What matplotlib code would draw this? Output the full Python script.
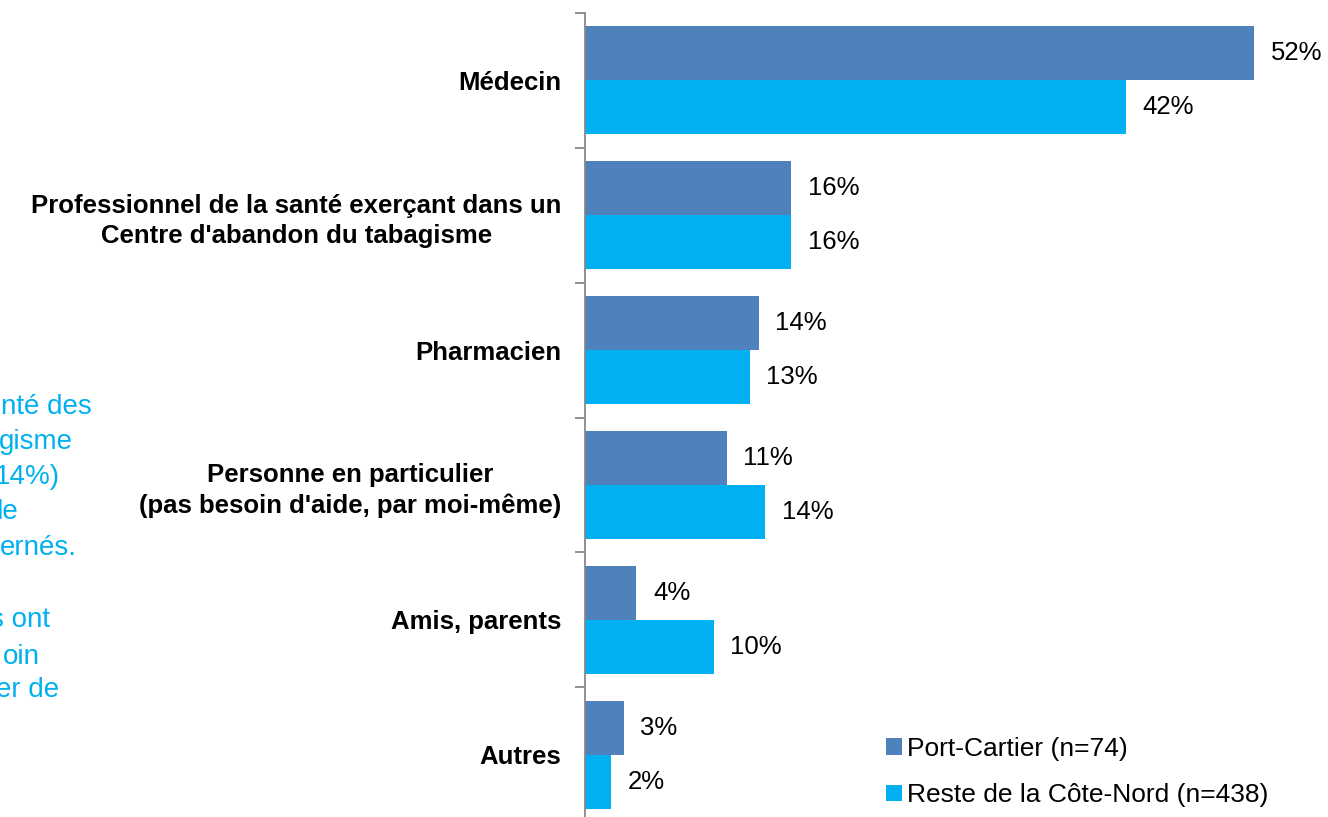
import matplotlib.pyplot as plt
import numpy as np

plt.rcParams['font.family'] = ['Liberation Sans', 'DejaVu Sans']

categories = ["Médecin",
              "Professionnel de la santé exerçant dans un\nCentre d'abandon du tabagisme",
              "Pharmacien",
              "Personne en particulier\n(pas besoin d'aide, par moi-même)",
              "Amis, parents",
              "Autres"]
port_cartier = [52, 16, 13.5, 11, 4, 3]
reste_cn = [42, 16, 12.8, 14, 10, 2]
port_labels = ["52%", "16%", "14%", "11%", "4%", "3%"]
reste_labels = ["42%", "16%", "13%", "14%", "10%", "2%"]
series_names = ["Port-Cartier (n=74)", "Reste de la Côte-Nord (n=438)"]

# bout de texte coupé à gauche de la diapo
side_text = ["nté des", "gisme", "14%)", "de", "ernés.", "s ont", "oin", "er de"]
side_x = [92, 73, 60, 19, 77, 50, 40, 59]
side_y = [407, 442, 477, 512, 548, 620, 657, 690]

W, H = 1328, 817
fig = plt.figure(figsize=(W / 100, H / 100), dpi=100)
ax = fig.add_axes([585 / W, (H - 822) / H, (W - 585) / W, 809 / H])

y = np.arange(len(categories))
b1 = ax.barh(y - 0.2, port_cartier, height=0.4, color='#4F81BD', label=series_names[0])
b2 = ax.barh(y + 0.2, reste_cn, height=0.4, color='#00B0F0', label=series_names[1])
ax.bar_label(b1, labels=port_labels, padding=12, fontsize=18.5)
ax.bar_label(b2, labels=reste_labels, padding=12, fontsize=18.5)

ax.set_xlim(0, (W - 585) / 12.87)
ax.set_ylim(len(categories) - 0.5, -0.5)

ax.set_yticks(np.arange(-0.5, len(categories) + 0.5, 1))
ax.set_yticklabels([])
ax.set_yticks(y, minor=True)
ax.set_yticklabels(categories, minor=True, fontsize=18.5, fontweight='bold')
for lbl in ax.get_yticklabels(minor=True):
    lbl.set_multialignment('center')
    lbl.set_linespacing(1.35)
ax.tick_params(axis='y', which='major', length=7, width=1.3, color='#888888', direction='out')
ax.tick_params(axis='y', which='minor', length=0, pad=17)
ax.set_xticks([])
for s in ['top', 'right', 'bottom']:
    ax.spines[s].set_visible(False)
ax.spines['left'].set_color('#888888')
ax.spines['left'].set_linewidth(1.3)

ax.legend(loc='center left', bbox_to_anchor=(886 / W, 1 - 772 / H),
          bbox_transform=fig.transFigure, frameon=False, fontsize=19,
          handlelength=0.6, handleheight=0.6, handletextpad=0.2,
          borderpad=0, borderaxespad=0, labelspacing=0.85)

for t, xx, yy in zip(side_text, side_x, side_y):
    fig.text(xx / W, 1 - yy / H, t, ha='right', va='center', color='#00B0F0', fontsize=20)

fig.savefig('out.png', dpi=100)
